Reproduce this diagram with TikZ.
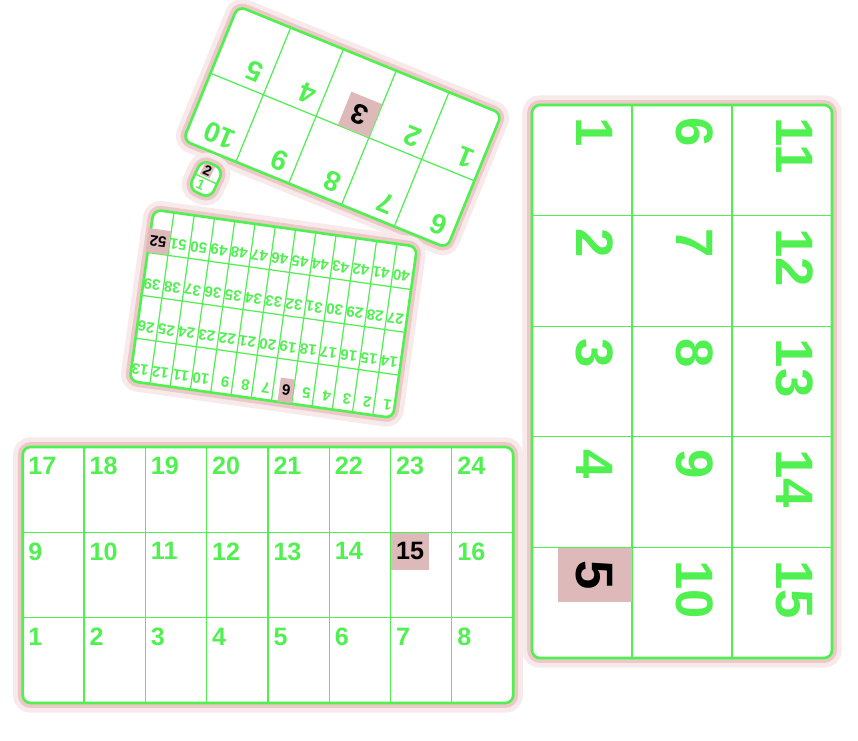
\documentclass[tikz,border=0pt]{standalone}
\usepackage{fontspec}
\setmainfont{Liberation Sans}
\definecolor{verde}{RGB}{80,240,80}
\definecolor{halo}{RGB}{236,200,200}
\definecolor{halosuave}{RGB}{248,234,234}
\definecolor{fondo}{RGB}{222,185,185}
\begin{document}
\begin{tikzpicture}[x=0.02cm,y=-0.02cm,
    borde/.style={draw=verde,line width=1.5pt,rounded corners=4.5pt,fill=white,
      preaction={draw=halosuave,line width=11pt},
      preaction={draw=halo,line width=5.5pt}},
    rejilla/.style={draw=verde,line width=0.7pt},
    num/.style={anchor=north west,text=verde,font=\bfseries},
    marca/.style={fill=fondo,text=black}]
  \useasboundingbox (0,0) rectangle (858,740);
  % Tarjeta de 24
  \begin{scope}[shift={(22.7,447)},n15/.style=marca,
      num/.append style={font=\bfseries\fontsize{14.3}{17}\selectfont,inner xsep=3pt,inner ysep=5.7pt}]
    \draw[borde] (0,0) rectangle (490.5,256);
    \foreach \c in {1,...,7} \draw[rejilla] (\c*61.3,0) -- (\c*61.3,256);
    \foreach \r in {1,2} \draw[rejilla] (0,\r*85.3) -- (490.5,\r*85.3);
    \foreach \r in {0,1,2} \foreach \c in {0,...,7} {
      \pgfmathtruncatemacro\n{(2-\r)*8+\c+1}
      \node[num,n\n/.try] (a\n) at (\c*61.3,\r*85.3) {\n};
    }
  \end{scope}
  % Tarjeta de 15
  \begin{scope}[shift={(832,105)},rotate=-90,transform shape,n5/.style=marca,
      num/.append style={font=\bfseries\fontsize{30}{36}\selectfont,inner xsep=7pt,inner ysep=10.5pt}]
    \draw[borde] (0,0) rectangle (553,300);
    \foreach \c in {1,...,4} \draw[rejilla] (\c*110.6,0) -- (\c*110.6,300);
    \foreach \r in {1,2} \draw[rejilla] (0,\r*100) -- (553,\r*100);
    \foreach \r in {0,1,2} \foreach \c in {0,...,4} {
      \pgfmathtruncatemacro\n{(2-\r)*5+\c+1}
      \node[num,n\n/.try] (b\n) at (\c*110.6,\r*100) {\n};
    }
  \end{scope}
  % Tarjeta de 10
  \begin{scope}[shift={(447,248)},rotate=157.8,transform shape,n3/.style=marca,
      num/.append style={font=\bfseries\fontsize{16}{19}\selectfont,inner xsep=5pt,inner ysep=4.5pt}]
    \draw[borde] (0,0) rectangle (285,145);
    \foreach \c in {1,...,4} \draw[rejilla] (\c*57,0) -- (\c*57,145);
    \draw[rejilla] (0,72.5) -- (285,72.5);
    \foreach \r in {0,1} \foreach \c in {0,...,4} {
      \pgfmathtruncatemacro\n{(1-\r)*5+\c+1}
      \node[num,n\n/.try] (c\n) at (\c*57,\r*72.5) {\n};
    }
  \end{scope}
  % Tarjeta de 52
  \begin{scope}[shift={(393,418)},rotate=172,transform shape,n6/.style=marca,n52/.style=marca,
      num/.append style={font=\bfseries\fontsize{8.6}{10}\selectfont,inner xsep=1.6pt,inner ysep=3.8pt}]
    \draw[borde] (0,0) rectangle (266,173);
    \foreach \c in {1,...,12} \draw[rejilla] (\c*20.46,0) -- (\c*20.46,173);
    \foreach \r in {1,2,3} \draw[rejilla] (0,\r*43.25) -- (266,\r*43.25);
    \foreach \r in {0,...,3} \foreach \c in {0,...,12} {
      \pgfmathtruncatemacro\n{\r*13+\c+1}
      \node[num,n\n/.try] (d\n) at (\c*20.46,\r*43.25) {\n};
    }
  \end{scope}
  % Tarjeta de 2
  \begin{scope}[shift={(206,179)},rotate=-25,transform shape,n2/.style=marca,
      num/.append style={font=\bfseries\fontsize{8}{9}\selectfont,inner sep=0.8pt}]
    \draw[borde,rounded corners=5pt] (-12,-16) rectangle (12,16);
    \draw[rejilla] (-12,0) -- (12,0);
    \node[num,n2/.try] (e2) at (-8,-15) {2};
    \node[num] (e1) at (-8,1) {1};
  \end{scope}
\end{tikzpicture}
\end{document}
